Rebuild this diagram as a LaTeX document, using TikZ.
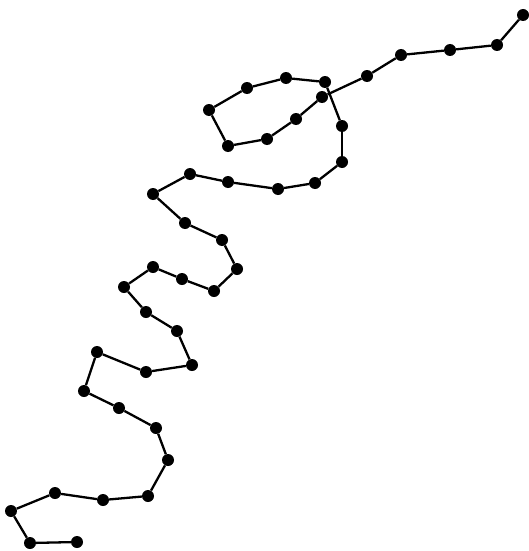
\documentclass[tikz,border=0pt]{standalone}
\usepackage{tikz}
\usetikzlibrary{positioning}

\begin{document}
\begin{tikzpicture}[x=1pt, y=-1pt,
    bead/.style={circle, fill=black, minimum size=12pt, inner sep=0pt},
    link/.style={line width=2.3pt},
]
    \useasboundingbox (0,0) rectangle (529,551);
    % beads along the chain
    \foreach \px/\py [count=\i] in {523/15, 497/45, 450/50, 401/55, 367/76,
        322/97, 296/119, 267/139, 228/146, 209/110, 247/88, 286/78, 325/82,
        342/126, 342/162, 315/183, 278/189, 228/182, 190/174, 153/194,
        185/223, 222/240, 237/269, 214/291, 182/279, 153/267, 124/287,
        146/312, 177/331, 192/365, 146/372, 97/352, 84/391, 119/408,
        156/428, 168/460, 148/496, 103/500, 55/493, 11/511, 30/543, 77/542} {
        \node[bead] (p\i) at (\px,\py) {};
    }
    % links between neighbours
    \foreach \i [evaluate=\i as \j using int(\i+1)] in {1,...,41} {
        \draw[link] (p\i) -- (p\j);
    }
\end{tikzpicture}
\end{document}
